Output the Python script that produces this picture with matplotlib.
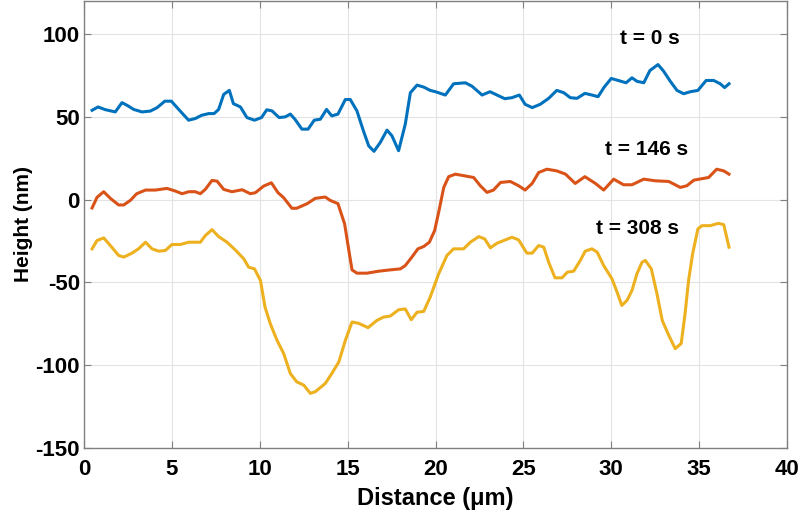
import matplotlib
matplotlib.use("Agg")
import matplotlib.pyplot as plt

# profile at t = 0 s
x0 = [0.46, 0.8, 1.2, 1.78, 2.16, 2.45, 2.83, 3.3, 3.77, 4.15, 4.6, 4.97, 5.39, 5.95,
      6.33, 6.7, 7.1, 7.4, 7.66, 7.95, 8.27, 8.5, 8.9, 9.27, 9.7, 10.1, 10.4, 10.7,
      11.1, 11.45, 11.74, 12.0, 12.4, 12.75, 13.1, 13.45, 13.8, 14.1, 14.45, 14.87,
      15.15, 15.53, 15.9, 16.2, 16.5, 16.86, 17.24, 17.52, 17.9, 18.28, 18.57, 18.95,
      19.33, 19.7, 20.0, 20.56, 21.03, 21.7, 22.08, 22.65, 23.1, 23.5, 23.94, 24.35,
      24.77, 25.1, 25.5, 25.96, 26.44, 26.9, 27.3, 27.67, 28.05, 28.5, 28.9, 29.25,
      29.6, 30.0, 30.4, 30.84, 31.18, 31.46, 31.85, 32.2, 32.66, 32.98, 33.36, 33.74,
      34.12, 34.5, 34.93, 35.4, 35.83, 36.2, 36.45, 36.7]
h0 = [54.0, 56.0, 54.4, 53.0, 58.6, 57.0, 54.5, 53.0, 53.5, 55.5, 59.5, 59.5, 54.5, 48.0,
      49.0, 51.0, 52.0, 52.0, 54.5, 63.6, 66.0, 58.0, 56.0, 49.6, 48.0, 49.6, 54.3, 53.6,
      49.6, 50.0, 51.7, 48.6, 42.6, 42.6, 48.0, 48.6, 54.5, 50.6, 51.7, 60.5,
      60.5, 53.6, 41.5, 32.5, 29.2, 34.6, 42.0, 38.6, 29.6, 45.6, 64.6, 69.2,
      68.0, 66.0, 65.2, 63.2, 70.0, 70.6, 68.5, 63.2, 65.2, 63.2, 61.0, 61.6,
      63.2, 57.6, 55.6, 57.6, 61.2, 66.0, 64.6, 61.6, 61.2, 64.2, 63.2, 62.2,
      68.0, 73.2, 72.0, 70.6, 73.6, 71.5, 70.6, 78.0, 81.6, 77.6, 71.5, 66.0,
      64.0, 65.2, 66.0, 72.0, 72.0, 70.0, 67.7, 70.0]

# profile at t = 146 s
x1 = [0.46, 0.74, 1.12, 1.5, 1.97, 2.26, 2.64, 3.0, 3.5, 4.06, 4.72, 5.2, 5.58, 5.96,
      6.33, 6.62, 6.9, 7.28, 7.57, 7.95, 8.42, 9.0, 9.46, 9.75, 10.22, 10.66, 11.04,
      11.36, 11.83, 12.1, 12.7, 13.16, 13.73, 14.0, 14.45, 14.83, 15.1, 15.25, 15.53,
      16.1, 16.77, 17.43, 18.0, 18.28, 18.62, 19.0, 19.33, 19.65, 19.95, 20.2, 20.47,
      20.75, 21.13, 21.6, 22.17, 22.55, 22.93, 23.3, 23.7, 24.26, 24.73, 25.1, 25.5,
      25.87, 26.34, 26.9, 27.4, 27.95, 28.5, 29.1, 29.57, 30.14, 30.7, 31.18, 31.85,
      32.5, 33.27, 33.93, 34.3, 34.7, 35.54, 36.0, 36.4, 36.7]
h1 = [-5.0, 1.4, 4.8, 0.8, -3.2, -3.2, -0.4, 3.6, 5.8, 5.8, 6.8, 5.2, 3.6, 4.8,
      4.8, 3.6, 6.2, 11.6, 11.2, 6.2, 4.8, 6.0, 3.6, 4.2, 8.2, 10.2, 4.2,
      1.2, -5.2, -5.2, -2.4, 0.8, 1.6, -0.4, -2.4, -14.7, -32.7, -42.4, -44.4,
      -44.4, -43.2, -42.4, -41.8, -39.8, -35.2, -29.7, -28.3, -25.7, -18.7, -6.6, 7.4,
      13.9, 15.4, 14.5, 13.4, 8.4, 4.4, 5.8, 10.4, 11.0, 8.4, 5.8, 9.8,
      16.4, 18.4, 17.4, 15.4, 9.8, 13.9, 9.8, 5.8, 12.4, 9.0, 9.0, 12.4,
      11.4, 11.0, 7.4, 8.4, 11.8, 13.4, 18.4, 17.4, 15.4]

# profile at t = 308 s
x2 = [0.46, 0.74, 1.12, 1.5, 1.97, 2.26, 2.73, 3.1, 3.5, 3.87, 4.25, 4.63, 5.0, 5.47,
      5.96, 6.62, 6.9, 7.28, 7.66, 8.14, 8.6, 9.09, 9.37, 9.7, 10.04, 10.3, 10.6,
      10.98, 11.36, 11.74, 12.1, 12.5, 12.88, 13.16, 13.73, 14.1, 14.5, 14.87, 15.25,
      15.63, 16.16, 16.67, 17.05, 17.43, 17.9, 18.28, 18.62, 18.95, 19.33, 19.7, 20.18,
      20.65, 21.03, 21.6, 21.98, 22.46, 22.8, 23.12, 23.5, 23.88, 24.35, 24.73, 25.2,
      25.5, 25.87, 26.16, 26.44, 26.8, 27.2, 27.5, 27.86, 28.24, 28.52, 28.9, 29.2,
      29.57, 30.04, 30.33, 30.6, 30.9, 31.18, 31.46, 31.75, 31.94, 32.28, 32.6, 32.9,
      33.27, 33.64, 33.98, 34.2, 34.4, 34.63, 34.93, 35.16, 35.63, 36.1, 36.4, 36.7]
h2 = [-29.7, -24.7, -23.1, -27.7, -33.7, -34.7, -32.3, -29.7, -25.7, -29.7, -31.1, -30.7, -27.1, -27.1,
      -25.7, -25.7, -21.7, -18.1, -22.3, -25.7, -30.3, -35.7, -40.8, -41.8, -48.8, -64.9, -74.9,
      -84.9, -92.9, -105.0, -110.0, -112.0, -117.0, -116.0, -111.0, -105.0, -98.0, -85.0, -73.9,
      -74.7, -77.3, -72.9, -70.9, -70.3, -66.5, -66.0, -72.5, -68.0, -67.5, -58.8, -44.8,
      -33.7, -29.7, -29.7, -25.7, -22.3, -23.7, -29.1, -26.3, -24.7, -22.7, -24.3, -32.3,
      -32.3, -27.7, -28.7, -37.8, -47.2, -47.2, -43.8, -43.2, -36.7, -31.1, -29.7, -31.7,
      -39.8, -47.8, -55.8, -63.9, -60.8, -54.8, -44.8, -37.8, -36.7, -41.8, -56.8, -72.9,
      -81.9, -90.0, -86.9, -68.9, -48.8, -32.7, -17.7, -15.7, -15.7, -14.3, -15.1, -28.7]

labels = ["t = 0 s", "t = 146 s", "t = 308 s"]
label_pos = [(32.2, 97.5), (32.0, 30.5), (31.5, -17.5)]
colors = ["#0072BD", "#D95319", "#EDB120"]

plt.rcParams['font.family'] = ['Liberation Sans', 'DejaVu Sans']
plt.rcParams['font.weight'] = 'bold'
plt.rcParams['axes.unicode_minus'] = False  # plain hyphen like the original

fig = plt.figure(figsize=(8, 5.13), dpi=100)
ax = fig.add_axes([84 / 800, 65 / 513, 703 / 800, 447 / 513])

for xs, hs, c in zip([x0, x1, x2], [h0, h1, h2], colors):
  ax.plot(xs, hs, color=c, linewidth=2.2, solid_joinstyle='round')

for txt, (tx, ty) in zip(labels, label_pos):
  ax.text(tx, ty, txt, fontsize=15, fontweight='bold', ha='center', va='center')

ax.set_xlim(0, 40)
ax.set_ylim(-150, 120)
ax.set_xticks(range(0, 41, 5))
ax.set_yticks(range(-150, 101, 50))
ax.grid(True, color='#e3e3e3', linewidth=0.8)
ax.set_axisbelow(True)
for s in ax.spines.values():
  s.set_color('#808080')
  s.set_linewidth(1.0)
ax.tick_params(direction='in', length=5, color='#808080', labelsize=16,
               top=True, right=True, labeltop=False, labelright=False, pad=3)
ax.tick_params(axis='x', pad=8)
for lab in ax.get_xticklabels() + ax.get_yticklabels():
  lab.set_fontweight('bold')

ax.set_xlabel('Distance (\u03bcm)', fontsize=17, fontweight='bold', labelpad=5)
ax.set_ylabel('Height (nm)', fontsize=15, fontweight='bold', labelpad=2)

fig.savefig('out.png', dpi=100)
